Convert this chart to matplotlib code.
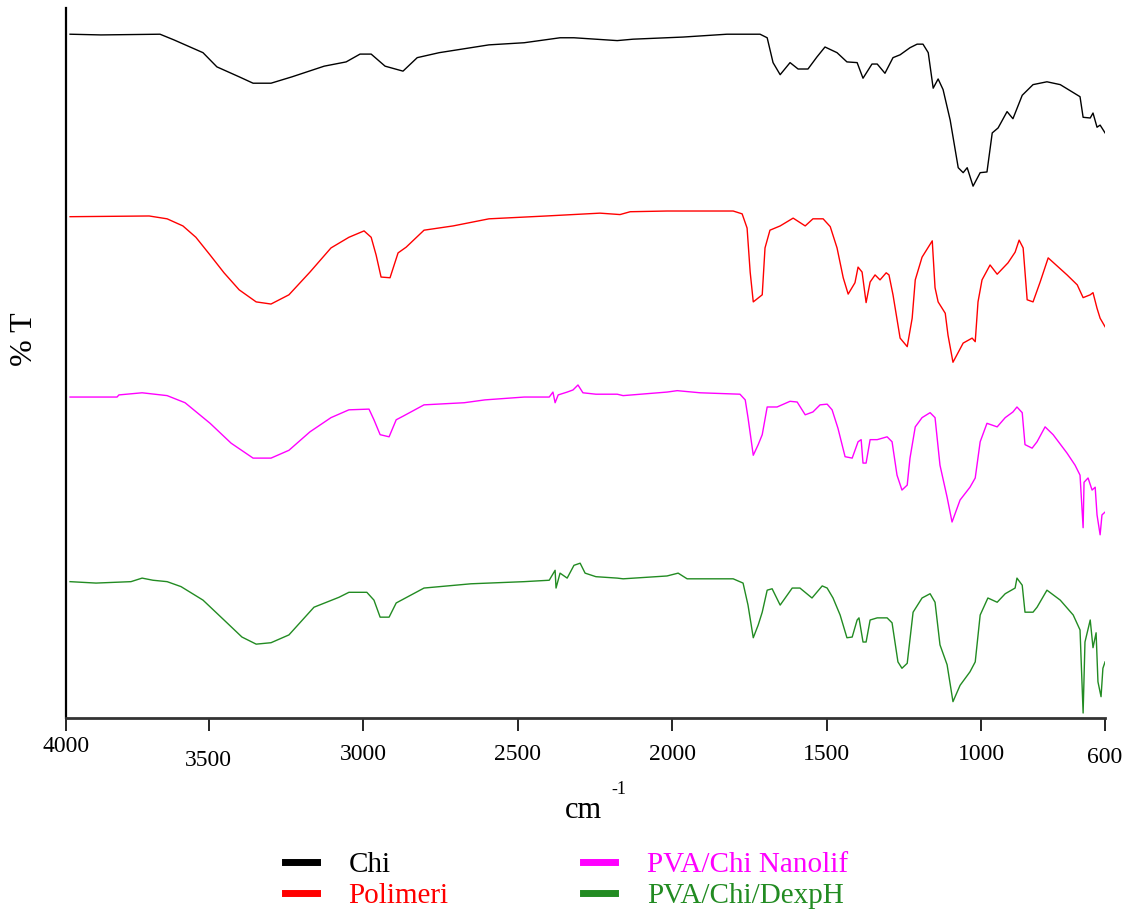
import numpy as np
import matplotlib
matplotlib.use("Agg")
import matplotlib.pyplot as plt
import matplotlib.transforms as mtransforms

plt.rcParams['font.family'] = ['Liberation Serif', 'DejaVu Serif']

# FTIR spectra (wavenumber in cm-1, %T in arbitrary offset units)
wn_chi = [3948, 3848, 3657, 3612, 3518, 3473, 3401, 3356, 3298, 3230, 3126, 3055, 3010, 2974, 2929,
          2871, 2825, 2754, 2593, 2479, 2363, 2318, 2178, 2127, 1965, 1823, 1716, 1693, 1674, 1651,
          1619, 1593, 1561, 1532, 1506, 1467, 1435, 1402, 1383, 1354, 1337, 1312, 1286, 1263, 1231,
          1208, 1189, 1172, 1156, 1140, 1124, 1101, 1075, 1059, 1046, 1027, 1004, 982, 965, 946,
          917, 898, 868, 833, 788, 745, 681, 671, 648, 639, 626, 616, 600]
t_chi = [96.3, 96.2, 96.3, 95.5, 93.7, 91.7, 90.3, 89.4, 89.4, 90.3, 91.8, 92.4, 93.5, 93.5, 91.8,
         91.1, 93.0, 93.7, 94.8, 95.1, 95.8, 95.8, 95.4, 95.6, 95.9, 96.3, 96.3, 95.8, 92.3, 90.6,
         92.3, 91.4, 91.4, 93.1, 94.5, 93.7, 92.4, 92.3, 90.1, 92.1, 92.1, 90.8, 93.0, 93.4, 94.4,
         94.9, 94.9, 93.7, 88.7, 90.0, 88.5, 84.2, 77.5, 76.8, 77.5, 74.9, 76.8, 76.9, 82.4, 83.1,
         85.4, 84.4, 87.7, 89.2, 89.6, 89.2, 87.5, 84.6, 84.5, 85.2, 83.2, 83.5, 82.4]

wn_pol = [3948, 3692, 3634, 3583, 3541, 3495, 3450, 3401, 3346, 3298, 3240, 3172, 3104, 3046, 2997,
          2974, 2958, 2942, 2913, 2887, 2861, 2803, 2709, 2593, 2408, 2234, 2169, 2136, 2017, 1803,
          1774, 1758, 1748, 1738, 1709, 1700, 1684, 1651, 1609, 1570, 1545, 1512, 1489, 1467, 1447,
          1431, 1409, 1399, 1386, 1373, 1360, 1344, 1328, 1308, 1299, 1286, 1263, 1240, 1224, 1214,
          1192, 1159, 1150, 1140, 1117, 1108, 1092, 1059, 1030, 1020, 1011, 998, 972, 949, 914,
          891, 878, 865, 852, 833, 810, 784, 723, 690, 671, 648, 639, 626, 616, 600]
t_pol = [70.6, 70.7, 70.3, 69.3, 67.7, 65.2, 62.7, 60.3, 58.6, 58.3, 59.6, 62.8, 66.2, 67.7, 68.6,
         67.7, 65.2, 62.1, 62.0, 65.5, 66.3, 68.7, 69.3, 70.3, 70.7, 71.1, 70.9, 71.3, 71.4, 71.4,
         71.0, 69.0, 62.8, 58.6, 59.6, 66.2, 68.7, 69.3, 70.4, 69.3, 70.3, 70.3, 69.2, 66.2, 62.0,
         59.7, 61.3, 63.5, 62.8, 58.5, 61.4, 62.4, 61.7, 62.7, 62.4, 59.6, 53.5, 52.3, 56.3, 61.7,
         64.9, 67.2, 60.6, 58.6, 57.0, 53.9, 50.1, 52.8, 53.5, 53.0, 58.6, 61.7, 63.8, 62.5, 64.1,
         65.6, 67.3, 66.2, 58.9, 58.6, 61.4, 64.8, 62.4, 61.0, 59.2, 59.6, 59.9, 57.7, 56.3, 55.1]

wn_nano = [3948, 3796, 3790, 3715, 3634, 3576, 3495, 3427, 3356, 3298, 3240, 3172, 3104, 3046, 2981,
           2965, 2945, 2916, 2893, 2871, 2803, 2673, 2606, 2479, 2398, 2386, 2379, 2369, 2340, 2321,
           2305, 2289, 2247, 2178, 2159, 2017, 1984, 1910, 1781, 1764, 1755, 1738, 1722, 1709, 1693,
           1661, 1619, 1596, 1570, 1545, 1522, 1499, 1483, 1464, 1441, 1418, 1399, 1389, 1383, 1373,
           1360, 1337, 1305, 1289, 1273, 1257, 1240, 1231, 1214, 1192, 1166, 1150, 1134, 1111, 1095,
           1069, 1037, 1020, 1004, 982, 949, 923, 898, 885, 868, 859, 836, 820, 794, 768,
           723, 697, 681, 671, 668, 655, 642, 632, 626, 616, 610, 600]
t_nano = [45.2, 45.2, 45.5, 45.8, 45.4, 44.4, 41.5, 38.7, 36.6, 36.6, 37.7, 40.3, 42.3, 43.4, 43.5,
          42.0, 39.9, 39.6, 42.0, 42.5, 44.1, 44.4, 44.8, 45.2, 45.2, 45.9, 44.4, 45.5, 45.9, 46.2,
          46.9, 45.8, 45.6, 45.6, 45.4, 45.9, 46.1, 45.8, 45.6, 44.8, 42.3, 37.0, 38.5, 39.9, 43.8,
          43.8, 44.6, 44.5, 42.7, 43.1, 44.1, 44.2, 43.4, 40.8, 36.8, 36.6, 38.9, 39.2, 35.9, 35.9,
          39.2, 39.2, 39.6, 38.9, 34.2, 32.1, 32.8, 36.6, 41.0, 42.3, 43.0, 42.3, 35.6, 31.1, 27.6,
          30.7, 32.5, 33.8, 38.9, 41.5, 41.0, 42.3, 43.1, 43.8, 43.0, 38.5, 38.0, 38.9, 41.0, 39.9,
          37.3, 35.6, 34.2, 26.8, 33.2, 33.8, 32.1, 32.5, 28.6, 25.8, 28.6, 29.0]

wn_dex = [3948, 3864, 3751, 3715, 3680, 3634, 3589, 3518, 3450, 3392, 3346, 3298, 3240, 3159, 3078,
          3046, 2988, 2965, 2945, 2916, 2893, 2803, 2651, 2479, 2398, 2379, 2376, 2363, 2340, 2318,
          2298, 2282, 2247, 2178, 2159, 2017, 1981, 1952, 1803, 1771, 1755, 1738, 1722, 1709, 1693,
          1677, 1651, 1612, 1587, 1548, 1515, 1499, 1480, 1457, 1435, 1418, 1402, 1396, 1383, 1373,
          1360, 1337, 1305, 1289, 1270, 1257, 1240, 1221, 1192, 1166, 1150, 1134, 1111, 1092, 1069,
          1037, 1020, 1004, 979, 949, 923, 891, 885, 868, 859, 833, 820, 788, 745, 703,
          681, 671, 665, 648, 639, 629, 623, 613, 607, 600]
t_dex = [19.2, 19.0, 19.2, 19.7, 19.4, 19.2, 18.5, 16.6, 13.8, 11.4, 10.4, 10.6, 11.7, 15.6, 17.0,
         17.7, 17.7, 16.6, 14.2, 14.2, 16.2, 18.3, 18.9, 19.2, 19.4, 20.8, 18.3, 20.4, 19.7, 21.5,
         21.8, 20.4, 19.9, 19.7, 19.6, 20.0, 20.4, 19.6, 19.6, 19.0, 15.9, 11.3, 13.1, 14.9, 18.0,
         18.2, 15.9, 18.3, 18.3, 16.9, 18.6, 18.3, 16.9, 14.5, 11.3, 11.4, 13.8, 14.1, 10.7, 10.7,
         13.8, 14.1, 14.1, 13.4, 7.9, 7.0, 7.7, 14.9, 16.9, 17.5, 16.3, 10.3, 7.5, 2.3, 4.6,
         6.5, 7.9, 14.5, 16.9, 16.3, 17.5, 18.3, 19.7, 18.7, 14.9, 14.9, 15.6, 18.0, 16.6, 14.5,
         12.4, 0.7, 10.7, 13.8, 9.9, 12.0, 5.1, 3.0, 7.0, 7.9]

labels = ['Chi', 'Polimeri', 'PVA/Chi Nanolif', 'PVA/Chi/DexpH']
colors = ['black', '#ff0000', '#ff00ff', '#228b22']

# axis ticks as printed on the original spectrum (left edge is labelled 4000)
tick_pos = [3961, 3500, 3000, 2500, 2000, 1500, 1000, 600]
tick_labels = ['4000', '3500', '3000', '2500', '2000', '1500', '1000', '600']

fig = plt.figure(figsize=(11.29, 9.13), dpi=100)
ax = fig.add_axes([0.0585, 0.2136, 0.9203, 0.7777])

series = [(wn_chi, t_chi), (wn_pol, t_pol), (wn_nano, t_nano), (wn_dex, t_dex)]
for (x, y), lab, col in zip(series, labels, colors):
    ax.plot(x, y, color=col, lw=1.0, label=lab)

ax.set_xlim(3961, 600)
ax.set_ylim(0, 100)

# Formatting: only left and bottom axis lines, no y ticks
ax.spines['top'].set_visible(False)
ax.spines['right'].set_visible(False)
ax.spines['left'].set_linewidth(1.6)
ax.spines['bottom'].set_linewidth(2.0)
ax.spines['bottom'].set_color('#333333')
ax.set_yticks([])
ax.set_xticks(tick_pos)
ax.set_xticklabels(tick_labels, fontsize=17)
ax.tick_params(axis='x', direction='out', length=9, width=1.2, pad=10)

# original labels are slightly staggered
shifts = [0.08, -0.06, 0, 0, 0, 0, 0, -0.03]
for lbl, dy in zip(ax.get_xticklabels(), shifts):
    lbl.set_transform(lbl.get_transform() + mtransforms.ScaledTranslation(0, dy, fig.dpi_scale_trans))

fig.text(0.022, 0.628, '% T', rotation=90, fontsize=23, ha='center', va='center')
fig.text(0.5165, 0.112, 'cm', fontsize=22, ha='center', va='center')
fig.text(0.5485, 0.135, '-1', fontsize=13, ha='center', va='center')

leg = fig.legend(loc='upper left', bbox_to_anchor=(0.252, 0.067), ncol=2, frameon=False,
                 fontsize=21, handlelength=1.1, handletextpad=1.1, columnspacing=4.6,
                 labelspacing=0.16, borderpad=0, borderaxespad=0, labelcolor='linecolor')
for h in leg.legend_handles:
    h.set_linewidth(5)

fig.savefig('out.png', dpi=100)
